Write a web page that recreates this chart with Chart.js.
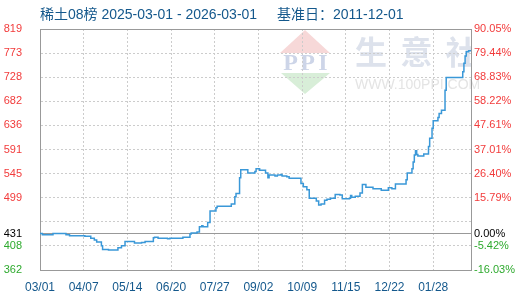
<!DOCTYPE html>
<html><head><meta charset="utf-8">
<script src="https://cdn.jsdelivr.net/npm/chart.js@4"></script>
<style>html,body{margin:0;padding:0;background:#fff}#wrap{width:520px;height:300px}</style>
</head><body><div id="wrap"><canvas id="c" width="520" height="300"></canvas></div>
<script>
const titleMain = '稀土08榜 2025-03-01 - 2026-03-01';
const titleBase = '基准日：2011-12-01';
const watermarkCN = ['生', '意', '社'];
const watermarkEN = 'WWW.100PPI.COM';
const logoLetters = ['P', 'P', 'I'];
const baseValue = 431;
const yMin = 361.9, yMax = 819.1;
const leftTickLabels = ['362', '408', '', '499', '545', '591', '636', '682', '728', '773', '819'];
const rightTickLabels = ['-16.03%', '-5.42%', '', '15.79%', '26.40%', '37.01%', '47.61%', '58.22%', '68.83%', '79.44%', '90.05%'];
const baseLeftLabel = '431', baseRightLabel = '0.00%';
const startDate = '2025-03-01', endDate = '2026-03-01';
const xTickDates = ['2025-03-01', '2025-04-07', '2025-05-14', '2025-06-20', '2025-07-27', '2025-09-02', '2025-10-09', '2025-11-15', '2025-12-22', '2026-01-28'];
const xTickLabels = ['03/01', '04/07', '05/14', '06/20', '07/27', '09/02', '10/09', '11/15', '12/22', '01/28'];

const dates = [
 '2025-03-01','2025-03-03','2025-03-12','2025-03-23','2025-03-26','2025-04-08','2025-04-13','2025-04-16','2025-04-18','2025-04-22',
 '2025-04-23','2025-04-28','2025-05-06','2025-05-09','2025-05-12','2025-05-20','2025-05-26','2025-05-29','2025-06-05','2025-06-06',
 '2025-06-09','2025-06-17','2025-06-19','2025-06-30','2025-07-06','2025-07-07','2025-07-12','2025-07-14','2025-07-16','2025-07-17',
 '2025-07-21','2025-07-23','2025-07-28','2025-07-29','2025-08-10','2025-08-13','2025-08-14','2025-08-17','2025-08-18','2025-08-24',
 '2025-08-30','2025-08-31','2025-09-03','2025-09-08','2025-09-10','2025-09-11','2025-09-16','2025-09-18','2025-09-21','2025-09-22',
 '2025-09-26','2025-09-28','2025-10-08','2025-10-10','2025-10-13','2025-10-15','2025-10-21','2025-10-23','2025-10-25','2025-10-28',
 '2025-10-30','2025-11-02','2025-11-06','2025-11-10','2025-11-12','2025-11-18','2025-11-19','2025-11-20','2025-11-23','2025-11-27',
 '2025-11-29','2025-12-02','2025-12-08','2025-12-15','2025-12-21','2025-12-24','2025-12-27','2026-01-05','2026-01-06','2026-01-10',
 '2026-01-11','2026-01-12','2026-01-13','2026-01-14','2026-01-15','2026-01-20','2026-01-24','2026-01-25','2026-01-27','2026-01-28',
 '2026-02-01','2026-02-02','2026-02-04','2026-02-07','2026-02-08','2026-02-22','2026-02-23','2026-02-24','2026-02-25','2026-02-27',
 '2026-03-01'
];
const values = [
 431,429,431,429,427,426,422,419,415,408,
 401,400,404,408,416,413,414,416,423,424,
 422,421,422,424,430,432,434,444,446,444,
 452,474,480,483,487,501,507,537,552,546,
 549,554,551,546,537,542,540,542,543,540,
 539,536,526,520,514,498,493,485,487,494,
 496,498,505,504,497,498,503,500,502,508,
 524,519,516,513,518,516,525,533,546,554,
 567,580,588,581,578,582,596,612,631,645,
 651,659,665,703,727,738,754,768,776,778,
 778
];

const DAY = 86400000;
const t0 = Date.parse(startDate + 'T00:00:00Z');
const dayOf = d => (Date.parse(d + 'T00:00:00Z') - t0) / DAY;
const yStep = (yMax - yMin) / (leftTickLabels.length - 1);
const isBase = v => Math.abs(v - baseValue) < 1e-6;
const isTop = v => Math.abs(v - yMax) < 1e-6;
const gridIdx = v => Math.round((v - yMin) / yStep);

const RED = '#f23b3b', GREEN = '#2eaa2e', BLACK = '#000000', BLUE = '#14588c';
const labelColor = ctx => {
  const v = ctx.tick ? ctx.tick.value : 0;
  return isBase(v) ? BLACK : (v > baseValue ? RED : GREEN);
};
const buildYTicks = scale => {
  const t = leftTickLabels.map((_, i) => ({ value: yMin + i * yStep }));
  t.push({ value: baseValue });
  t.sort((a, b) => a.value - b.value);
  scale.ticks = t;
};

const decor = {
  id: 'decor',
  beforeDraw(chart) {
    const c = chart.ctx;
    const a = chart.chartArea;
    c.save();
    // logo
    c.fillStyle = '#f7d8d8';
    c.beginPath(); c.moveTo(305, 30); c.lineTo(280, 53); c.lineTo(330, 53); c.closePath(); c.fill();
    c.fillStyle = '#d8eed8';
    c.beginPath(); c.moveTo(281, 73); c.lineTo(330, 73); c.lineTo(305, 94); c.closePath(); c.fill();
    c.fillStyle = '#cdd5e8';
    c.font = 'bold 24px "Liberation Serif"';
    c.textAlign = 'center'; c.textBaseline = 'middle';
    const lx = [290.5, 307.5, 323];
    logoLetters.forEach((ch, i) => c.fillText(ch, lx[i], 64));
    c.fillStyle = '#e4e4e4';
    c.font = '14px "Liberation Sans"';
    c.textAlign = 'left';
    c.fillText(watermarkEN, 355, 85);
    c.beginPath(); c.rect(a.left, a.top, a.right - a.left, a.bottom - a.top); c.clip();
    c.fillStyle = '#dde2ec';
    c.font = 'bold 32px "Noto Sans CJK SC"';
    c.textAlign = 'center';
    const cx = [371, 416.5, 461.5];
    watermarkCN.forEach((ch, i) => c.fillText(ch, cx[i], 52));
    c.restore();
  },
  afterDraw(chart) {
    const c = chart.ctx;
    c.save();
    c.fillStyle = BLUE;
    c.font = '14px "Liberation Sans", "Noto Sans CJK SC"';
    c.textAlign = 'left'; c.textBaseline = 'middle';
    c.fillText(titleMain, 40, 15);
    c.fillText(titleBase, 277, 15);
    c.restore();
  }
};

const dashFn = ctx => (ctx.tick && !isBase(ctx.tick.value) && !isTop(ctx.tick.value)) ? [2, 2] : [];

new Chart(document.getElementById('c'), {
  type: 'line',
  data: {
    datasets: [{
      data: dates.map((d, i) => ({ x: dayOf(d), y: values[i] })),
      borderColor: '#3a98d8',
      borderWidth: 1.5,
      pointRadius: 0,
      stepped: 'before',
      fill: false
    }]
  },
  options: {
    responsive: false,
    animation: false,
    devicePixelRatio: 1,
    layout: { padding: { top: 29, left: 0, right: 0, bottom: 0 } },
    plugins: { legend: { display: false }, tooltip: { enabled: false }, title: { display: false } },
    scales: {
      x: {
        type: 'linear',
        min: 0,
        max: dayOf(endDate),
        afterBuildTicks: s => { s.ticks = xTickDates.map(d => ({ value: dayOf(d) })); },
        afterFit: s => { s.height = 30; },
        ticks: {
          autoSkip: false, maxRotation: 0, padding: 10,
          color: BLUE, font: { family: 'Liberation Sans', size: 12 },
          callback: (v, i) => xTickLabels[i]
        },
        grid: { color: '#cccccc', lineWidth: 1, drawTicks: false, borderDash: [2, 2] },
        border: { color: '#999999', width: 1, dash: ctx => ctx.tick ? [2, 2] : [] }
      },
      y: {
        type: 'linear', position: 'left', min: yMin, max: yMax,
        afterBuildTicks: buildYTicks,
        afterFit: s => { s.width = 40; },
        ticks: {
          autoSkip: false, padding: 18, color: labelColor,
          font: { family: 'Liberation Sans', size: 11 },
          callback: v => isBase(v) ? baseLeftLabel : leftTickLabels[gridIdx(v)]
        },
        grid: {
          drawTicks: false, lineWidth: 1,
          color: ctx => (ctx.tick && (isBase(ctx.tick.value) || isTop(ctx.tick.value))) ? '#999999' : '#cccccc'
        },
        border: { color: '#999999', width: 1, dash: dashFn }
      },
      y1: {
        type: 'linear', position: 'right', min: yMin, max: yMax,
        afterBuildTicks: buildYTicks,
        afterFit: s => { s.width = 49; },
        ticks: {
          autoSkip: false, padding: 3, color: labelColor,
          font: { family: 'Liberation Sans', size: 11 },
          callback: v => isBase(v) ? baseRightLabel : rightTickLabels[gridIdx(v)]
        },
        grid: { drawOnChartArea: false, drawTicks: false },
        border: { color: '#999999', width: 1 }
      }
    }
  },
  plugins: [decor]
});
</script></body></html>
